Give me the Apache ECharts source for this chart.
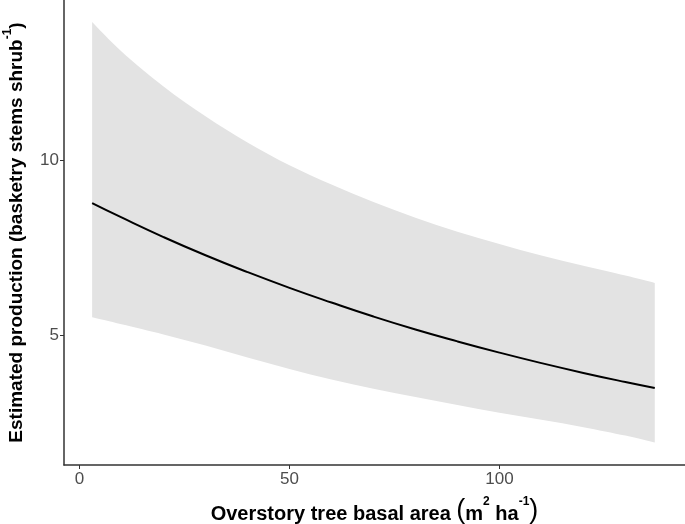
<!DOCTYPE html>
<html>
<head>
<meta charset="utf-8">
<script src="https://cdn.jsdelivr.net/npm/echarts@6/dist/echarts.min.js"></script>
<style>html,body{margin:0;padding:0;background:#fff;}#c{width:685px;height:524px;}</style>
</head>
<body>
<div id="c"></div>
<script>
var basalArea = [3, 10, 20, 30, 40, 50, 60, 70, 80, 90, 100, 110, 120, 130, 137];
var estimate  = [8.77, 8.36, 7.80, 7.28, 6.80, 6.35, 5.93, 5.53, 5.16, 4.82, 4.50, 4.20, 3.92, 3.66, 3.49];
var upperCI   = [13.94, 13.10, 12.10, 11.25, 10.50, 9.85, 9.30, 8.80, 8.35, 7.95, 7.60, 7.27, 6.98, 6.70, 6.49];
var lowerCI   = [5.51, 5.31, 5.02, 4.70, 4.36, 4.03, 3.73, 3.47, 3.23, 3.00, 2.78, 2.58, 2.37, 2.13, 1.93];
var xTicks = [0, 50, 100];
var yTicks = [5, 10];

var bandData = basalArea.map(function (x, i) { return [x, lowerCI[i], upperCI[i]]; });
var lineData = basalArea.map(function (x, i) { return [x, estimate[i]]; });

// Catmull-Rom smoothed path segment through pixel points (no leading M)
function smoothSegs(p) {
  var s = '';
  for (var i = 0; i < p.length - 1; i++) {
    var p0 = p[i - 1] || p[i], p1 = p[i], p2 = p[i + 1], p3 = p[i + 2] || p[i + 1];
    var c1x = p1[0] + (p2[0] - p0[0]) / 6, c1y = p1[1] + (p2[1] - p0[1]) / 6;
    var c2x = p2[0] - (p3[0] - p1[0]) / 6, c2y = p2[1] - (p3[1] - p1[1]) / 6;
    s += ' C' + c1x + ',' + c1y + ' ' + c2x + ',' + c2y + ' ' + p2[0] + ',' + p2[1];
  }
  return s;
}

var chart = echarts.init(document.getElementById('c'), null, {renderer: 'canvas'});
var font = '"Liberation Sans", Arial, sans-serif';
chart.setOption({
  backgroundColor: '#ffffff',
  animation: false,
  grid: {left: 64, right: 0, top: 0, bottom: 59, containLabel: false, outerBoundsMode: 'none'},
  xAxis: {
    type: 'value', min: -3.7, max: 144.2, z: 5,
    splitLine: {show: false},
    axisLine: {show: true, onZero: false, lineStyle: {color: '#333333', width: 1.5}},
    axisTick: {show: true, length: 4, customValues: xTicks, lineStyle: {color: '#333333', width: 1}},
    axisLabel: {customValues: xTicks, color: '#4d4d4d', fontSize: 17, fontFamily: font, margin: 6},
    name: '{t|Overstory tree basal area }{p|(}{t|m}{s|2}{t| ha}{s|-1}{p|)}',
    nameLocation: 'middle', nameGap: 31,
    nameTextStyle: {
      rich: {
        t: {fontSize: 20, fontWeight: 'bold', color: '#000', fontFamily: font, lineHeight: 28, verticalAlign: 'bottom'},
        p: {fontSize: 27, color: '#000', fontFamily: font, lineHeight: 28, verticalAlign: 'bottom'},
        s: {fontSize: 12, fontWeight: 'bold', color: '#000', fontFamily: font, lineHeight: 28, verticalAlign: 'top'}
      }
    }
  },
  yAxis: {
    type: 'value', min: 1.29, max: 14.57, z: 5,
    splitLine: {show: false},
    axisLine: {show: true, onZero: false, lineStyle: {color: '#333333', width: 1.5}},
    axisTick: {show: true, length: 4, customValues: yTicks, lineStyle: {color: '#333333', width: 1}},
    axisLabel: {customValues: yTicks, color: '#4d4d4d', fontSize: 17, fontFamily: font, margin: 5},
    name: '{t|Estimated production (basketry stems shrub}{s|-1}{t|)}',
    nameLocation: 'middle', nameGap: 38, nameRotate: 90,
    nameTextStyle: {
      rich: {
        t: {fontSize: 19, fontWeight: 'bold', color: '#000', fontFamily: font, lineHeight: 24, verticalAlign: 'bottom'},
        s: {fontSize: 12, fontWeight: 'bold', color: '#000', fontFamily: font, lineHeight: 24, verticalAlign: 'top'}
      }
    }
  },
  series: [
    {
      type: 'custom', data: bandData, silent: true, z: 1,
      encode: {x: 0, y: [1, 2]},
      renderItem: function (params, api) {
        if (params.dataIndex !== 0) return null;
        var upper = [], lower = [];
        for (var i = 0; i < bandData.length; i++) {
          upper.push(api.coord([bandData[i][0], bandData[i][2]]));
          lower.push(api.coord([bandData[i][0], bandData[i][1]]));
        }
        lower.reverse();
        var d = 'M' + upper[0][0] + ',' + upper[0][1] + smoothSegs(upper) +
                ' L' + lower[0][0] + ',' + lower[0][1] + smoothSegs(lower) + ' Z';
        return {type: 'path', shape: {pathData: d}, style: {fill: '#e3e3e3', stroke: null}};
      }
    },
    {type: 'line', data: lineData, symbol: 'none', smooth: true, z: 3,
     lineStyle: {color: '#000000', width: 2}}
  ]
});
</script>
</body>
</html>
